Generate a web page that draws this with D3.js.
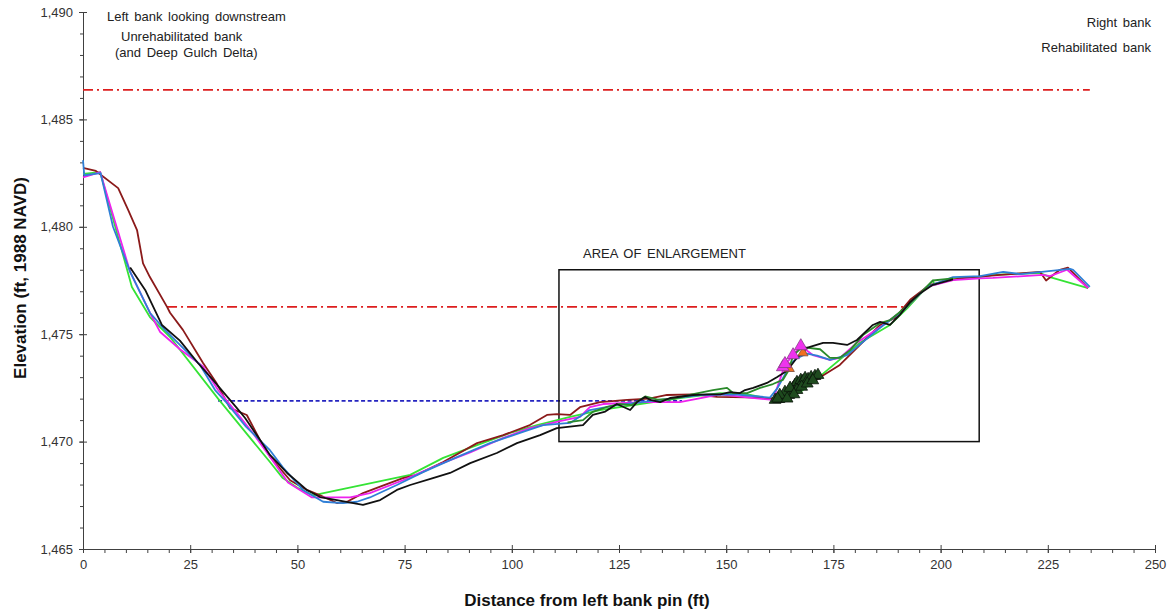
<!DOCTYPE html>
<html>
<head>
<meta charset="utf-8">
<script src="https://cdn.jsdelivr.net/npm/d3@7"></script>
<style>
  body { margin: 0; background: #fff; }
  text { font-family: Arial, "Liberation Sans", sans-serif; }
</style>
</head>
<body>
<svg id="canvas"></svg>
<script>
// Survey profiles, [distance ft, elevation ft].
var maroonProfile = [[0,1482.74],[3,1482.6],[8.2,1481.8],[10.5,1480.8],[12.6,1479.85],[14,1478.3],[15.6,1477.66],[19.6,1476.27],[20.3,1476.0],[23.3,1475.2],[28,1473.66],[31.2,1472.7],[34.3,1471.56],[38.2,1471.24],[41.3,1470.07],[43.6,1469.3],[48.3,1468.2],[52.2,1467.75],[55.3,1467.5],[59.2,1467.14],[61.6,1467.2],[65.3,1467.6],[69.3,1467.9],[74.6,1468.3],[77.8,1468.45],[84,1469.05],[91.9,1469.93],[98,1470.3],[104.2,1470.77],[108.2,1471.24],[110.5,1471.28],[113.6,1471.24],[115.9,1471.6],[120.6,1471.84],[126.9,1471.94],[132,1472.0],[136.2,1472.17],[142.3,1472.2],[147.9,1472.08],[154.9,1472.06],[159.5,1472.03],[162,1472.0],[165,1472.2],[168,1472.5],[171.9,1473.0],[176.5,1473.57],[181.2,1474.5],[185.9,1475.43],[189.4,1475.76],[192.9,1476.6],[197.5,1477.3],[204.5,1477.6],[213.9,1477.76],[223.2,1477.9],[224.6,1477.5],[227.8,1478.0],[229.7,1478.1],[234.4,1477.15]];

var limeProfile = [[0,1482.46],[4,1482.55],[11.4,1477.2],[15.6,1475.8],[20.3,1474.87],[31.5,1472.0],[39.4,1470.07],[43.6,1469.05],[46.6,1468.3],[50,1467.85],[53.6,1467.5],[76.3,1468.45],[84,1469.24],[91.9,1469.84],[99.6,1470.4],[105.9,1470.77],[113.6,1471.15],[120.6,1471.47],[129.9,1471.75],[139.2,1472.03],[148.6,1472.26],[155.6,1472.17],[161.4,1471.94],[167.2,1472.3],[171.9,1473.05],[181.2,1474.6],[188.2,1475.43],[192.2,1476.2],[198.2,1477.5],[198.6,1477.3],[202.9,1477.6],[209.2,1477.66],[212.2,1477.76],[223.2,1477.85],[225.5,1477.66],[234.4,1477.15]];

var magentaProfile = [[0,1482.3],[4,1482.55],[11,1477.9],[15.6,1476.0],[18,1475.1],[22.6,1474.3],[28,1473.5],[31.5,1472.4],[36,1471.3],[39.6,1470.4],[43.6,1469.3],[47.8,1468.1],[53.4,1467.4],[57,1467.4],[62.3,1467.4],[66.9,1467.6],[74.6,1468.2],[82.6,1468.9],[90.3,1469.5],[98,1470.17],[104.2,1470.63],[111.2,1470.95],[115.9,1471.15],[118.2,1471.6],[121.3,1471.75],[130.6,1471.84],[139.2,1471.84],[148.6,1472.2],[154.9,1472.06],[160.9,1471.94],[163.7,1473.57],[165.6,1474.03],[167.4,1474.45],[170.2,1474.03],[174.2,1473.8],[176.5,1473.9],[180.5,1474.6],[185.9,1475.33],[191.2,1476.1],[196.8,1477.2],[202.9,1477.52],[209.2,1477.6],[212.2,1477.62],[223.9,1477.76],[225.5,1477.7],[229.5,1478.0],[234.4,1477.15]];

var blueProfile = [[0,1483.1],[0.3,1482.4],[4.1,1482.5],[7,1480.0],[11,1477.9],[15.6,1476.0],[19.1,1475.2],[22.6,1474.5],[27.3,1473.57],[30.8,1472.4],[33.1,1471.9],[38,1470.7],[43.6,1469.6],[46.6,1468.8],[51.3,1467.75],[56,1467.2],[60.6,1467.14],[63.9,1467.2],[66.9,1467.4],[73.2,1467.98],[79.3,1468.58],[87.2,1469.28],[94.9,1469.93],[102.6,1470.45],[107.3,1470.77],[113.6,1470.87],[118.2,1471.47],[124.5,1471.7],[134.6,1471.94],[143.9,1472.17],[152,1472.2],[160.2,1472.05],[162,1472.5],[163.9,1473.2],[164.6,1473.57],[166.7,1473.9],[168.8,1474.1],[171.2,1474.0],[174.2,1473.8],[178.2,1474.03],[179.6,1474.26],[185.9,1475.3],[191.2,1476.1],[196.8,1477.2],[202.9,1477.66],[209.2,1477.7],[214.6,1477.9],[218.6,1477.8],[230.2,1478.04],[230.9,1478.0],[234.8,1477.2]];

var forestProfile = [[113,1470.9],[116.6,1471.0],[119,1471.4],[122,1471.6],[125,1471.75],[128,1471.7],[131.1,1472.1],[134,1471.95],[138,1472.0],[142,1472.2],[146.9,1472.4],[150.2,1472.5],[151.6,1472.26],[154.9,1472.26],[157.9,1472.5],[160.9,1472.68],[163.2,1472.87],[164.5,1473.3],[165.6,1474.0],[167.7,1474.4],[171.9,1474.3],[174.2,1473.9],[176.5,1473.9],[178.9,1474.26],[181.9,1474.96],[185.9,1475.52],[188.2,1475.66],[192.2,1476.3],[198.2,1477.5],[202.9,1477.6]];

var blackProfile = [[11,1478.1],[14.5,1477.06],[18.4,1475.43],[22.6,1474.7],[26.8,1473.66],[30.3,1472.87],[35.9,1471.56],[37.8,1471.1],[41.3,1470.07],[43.6,1469.38],[47.6,1468.54],[52.2,1467.75],[55.3,1467.42],[59.2,1467.28],[65.3,1467.05],[69.3,1467.28],[73.2,1467.75],[76.3,1467.98],[81.6,1468.3],[85.6,1468.54],[90.3,1469.0],[96.5,1469.47],[101.2,1469.93],[106.6,1470.3],[110.5,1470.63],[116.6,1470.77],[118.9,1471.24],[121.8,1471.4],[124.5,1471.75],[127.6,1471.47],[129.2,1471.84],[131.1,1472.08],[132.3,1471.94],[134.6,1471.84],[136.9,1472.03],[142.3,1472.17],[145.5,1472.2],[148.6,1472.2],[150.9,1472.3],[153.2,1472.26],[154.4,1472.4],[156.3,1472.5],[159.5,1472.73],[161.8,1473.0],[164.2,1473.3],[166.5,1473.9],[168.8,1474.36],[172.6,1474.6],[174.9,1474.6],[178.2,1474.5],[180.5,1474.73],[184.2,1475.43],[185.9,1475.57],[188.2,1475.43],[190.5,1475.9],[192.9,1476.5],[195.2,1476.9],[198.2,1477.3],[202.9,1477.55]];

// Point observations.
var orangeMarks = [[164.7,1473.4],[167.9,1474.13]];
var magentaMarks = [[163.2,1473.47],[163.7,1473.62],[165.6,1474.03],[167.4,1474.45]];
var treeMarks = [[161.4,1471.94],[162.3,1471.98],[163.2,1472.03],[163.9,1472.08],[164.6,1472.17],[165.1,1472.31],[165.6,1472.5],[166.0,1472.63],[166.5,1472.77],[167.0,1472.68],[167.4,1472.87],[167.9,1472.82],[168.4,1472.96],[169.1,1472.91],[169.8,1473.0],[170.7,1473.05],[171.4,1473.1],[163.7,1472.31],[164.9,1472.5],[166.5,1472.4],[162.5,1472.17],[165.8,1472.2],[167.6,1472.55],[168.9,1472.7],[170.2,1472.85],[162.0,1472.0],[164.2,1472.0]];

// Reference levels and the enlargement box.
var upperRedLine = [[0,1486.37],[234.8,1486.37]];
var lowerRedLine = [[19.6,1476.27],[191.7,1476.27]];
var waterLine = [[31.5,1471.9],[139.7,1471.9]];
var enlargementBox = [[111,1478],[209,1470]];

// Axis ticks.
var xTicks = [0,25,50,75,100,125,150,175,200,225,250];
var yTicks = [1465,1470,1475,1480,1485,1490];

// Canvas settings.
var canvas = { w: 1169, h: 611, m: { top: 12, right: 14, bottom: 62, left: 83 } };

var svg = d3.select('#canvas').attr('width', canvas.w).attr('height', canvas.h);

// Scales.
var x = d3.scaleLinear().domain([0, 250]).range([canvas.m.left, canvas.w - canvas.m.right]);
var y = d3.scaleLinear().domain([1465, 1490]).range([canvas.h - canvas.m.bottom, canvas.m.top]);

var line = d3.line().x(function(d) { return x(d[0]); }).y(function(d) { return y(d[1]); });

// Minor ticks.
svg.append('g')
  .attr('transform', 'translate(' + x(0) + ',0)')
  .call(d3.axisLeft(y).tickValues(d3.range(1465, 1491, 1)).tickSize(3).tickFormat(''))
  .call(function(g) { g.select('.domain').remove(); g.selectAll('line').attr('stroke', '#404040'); });

svg.append('g')
  .attr('transform', 'translate(0,' + y(1465) + ')')
  .call(d3.axisBottom(x).tickValues(d3.range(0, 251, 5)).tickSize(4).tickFormat(''))
  .call(function(g) { g.select('.domain').remove(); g.selectAll('line').attr('stroke', '#404040'); });

// Major axes.
svg.append('g')
  .attr('transform', 'translate(' + x(0) + ',0)')
  .call(d3.axisLeft(y).tickValues(yTicks).tickSize(4).tickSizeOuter(0).tickPadding(6).tickFormat(d3.format(',')))
  .call(function(g) {
    g.select('.domain').attr('stroke', '#404040');
    g.selectAll('line').attr('stroke', '#404040').attr('x1', 4);
    g.selectAll('text').attr('font-size', 13).attr('fill', '#333');
  });

svg.append('g')
  .attr('transform', 'translate(0,' + y(1465) + ')')
  .call(d3.axisBottom(x).tickValues(xTicks).tickSize(4).tickSizeOuter(0).tickPadding(7))
  .call(function(g) {
    g.select('.domain').attr('stroke', '#404040');
    g.selectAll('line').attr('stroke', '#404040').attr('y1', -4);
    g.selectAll('text').attr('font-size', 13).attr('fill', '#333');
  });

// Reference lines.
svg.append('path').attr('d', line(upperRedLine)).attr('fill', 'none')
  .attr('stroke', '#dd1e1e').attr('stroke-width', 1.8).attr('stroke-dasharray', '10,4,2,4');
svg.append('path').attr('d', line(lowerRedLine)).attr('fill', 'none')
  .attr('stroke', '#dd1e1e').attr('stroke-width', 1.8).attr('stroke-dasharray', '10,4,2,4');
svg.append('path').attr('d', line(waterLine)).attr('fill', 'none')
  .attr('stroke', '#2424c0').attr('stroke-width', 1.8).attr('stroke-dasharray', '4,2.5');

// Enlargement box.
svg.append('rect')
  .attr('x', x(enlargementBox[0][0])).attr('y', y(enlargementBox[0][1]))
  .attr('width', x(enlargementBox[1][0]) - x(enlargementBox[0][0]))
  .attr('height', y(enlargementBox[1][1]) - y(enlargementBox[0][1]))
  .attr('fill', 'none').attr('stroke', '#111').attr('stroke-width', 1.5);

// Profiles.
var profiles = [
  { data: limeProfile, colour: '#35e335' },
  { data: maroonProfile, colour: '#8b1a1a' },
  { data: magentaProfile, colour: '#ee22ee' },
  { data: blueProfile, colour: '#2f7fd6' },
  { data: forestProfile, colour: '#2b8a2b' },
  { data: blackProfile, colour: '#111111' }
];

svg.append('g').selectAll('path')
  .data(profiles)
  .enter()
  .append('path')
  .attr('d', function(d) { return line(d.data); })
  .attr('fill', 'none')
  .attr('stroke', function(d) { return d.colour; })
  .attr('stroke-width', 1.8)
  .attr('stroke-linejoin', 'round');

// Triangle markers.
var drawMarks = function(data, size, fill, stroke) {
  svg.append('g').selectAll('path')
    .data(data)
    .enter()
    .append('path')
    .attr('d', d3.symbol(d3.symbolTriangle).size(size))
    .attr('transform', function(d) { return 'translate(' + x(d[0]) + ',' + y(d[1]) + ')'; })
    .attr('fill', fill)
    .attr('stroke', stroke)
    .attr('stroke-width', 0.8);
};
drawMarks(treeMarks, 60, '#1e4a1e', '#0a140a');
drawMarks(orangeMarks, 45, '#f07020', '#7a4a3a');
drawMarks(magentaMarks, 70, '#ee33ee', '#8a3a8a');

// Annotations.
var note = function(tx, ty, str, anchor) {
  svg.append('text').attr('x', tx).attr('y', ty).attr('font-size', 13)
    .attr('word-spacing', 2).attr('fill', '#222')
    .attr('text-anchor', anchor || 'start').text(str);
};
note(107, 21, 'Left bank looking downstream');
note(121, 41, 'Unrehabilitated bank');
note(115, 57, '(and Deep Gulch Delta)');
note(1151, 27, 'Right bank', 'end');
note(1151, 52, 'Rehabilitated bank', 'end');
note(583, 258, 'AREA OF ENLARGEMENT');

// Axis titles.
svg.append('text')
  .attr('x', 587).attr('y', 606)
  .attr('text-anchor', 'middle').attr('font-size', 17).attr('font-weight', 'bold').attr('fill', '#111')
  .text('Distance from left bank pin (ft)');

svg.append('text')
  .attr('transform', 'translate(26,278) rotate(-90)')
  .attr('text-anchor', 'middle').attr('font-size', 17).attr('font-weight', 'bold').attr('fill', '#111')
  .text('Elevation (ft, 1988 NAVD)');
</script>
</body>
</html>
